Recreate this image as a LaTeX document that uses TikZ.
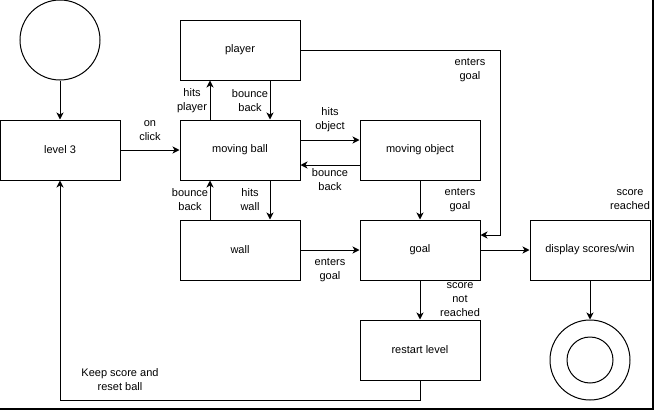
\documentclass[tikz,border=0pt]{standalone}
\usepackage{fontspec}
\setmainfont{Liberation Sans}
\usetikzlibrary{arrows.meta}

\begin{document}
\begin{tikzpicture}[x=1pt,y=-1pt,line width=1pt,
  state/.style={draw, rectangle, minimum width=120, minimum height=60, inner sep=0, font=\fontsize{11pt}{13pt}\selectfont},
  pseudo/.style={draw, circle, minimum size=80, inner sep=0},
  lbl/.style={inner sep=0, align=center, font=\fontsize{11pt}{14pt}\selectfont},
  arr/.style={-{Stealth[length=7pt,width=7pt,inset=2pt]}}]
\useasboundingbox (0,0) rectangle (654,410);
% frame
\draw [line width=2pt] (0,409) -- (653,409) -- (653,0);
% states
\node [pseudo] (start) at (60,40) {};
\node [state] (level) at (60,150) {level 3};
\node [state] (player) at (240,50) {player};
\node [state] (ball) at (240,150) {moving ball};
\node [state] (object) at (420,150) {moving object};
\node [state] (wall) at (240,250) {wall};
\node [state] (goal) at (420,250) {goal};
\node [state] (display) at (590,250) {display scores/win};
\node [state] (restart) at (420,350) {restart level};
\node [pseudo] (finish) at (590,360) {};
\node [draw, circle, minimum size=46, inner sep=0] (finishin) at (590,360) {};
\coordinate (goalin) at (500,235);
\coordinate (loopback) at (420,400);
% transitions
\draw [arr] (start) -- (level);
\draw [arr] (level) -- (ball);
\draw [arr] ([xshift=-30pt]ball.north) -- ([xshift=-30pt]player.south);
\draw [arr] ([xshift=30pt]player.south) -- ([xshift=30pt]ball.north);
\draw [arr] ([yshift=10pt]ball.east) -- ([yshift=10pt]object.west);
\draw [arr] ([yshift=-15pt]object.west) -- ([yshift=-15pt]ball.east);
\draw [arr] ([xshift=-30pt]wall.north) -- ([xshift=-30pt]ball.south);
\draw [arr] ([xshift=30pt]ball.south) -- ([xshift=30pt]wall.north);
\draw [arr] (wall) -- (goal);
\draw [arr] (object) -- (goal);
\draw [arr] (player.east) -| (goalin) -- ([yshift=15pt]goal.east);
\draw [arr] (goal) -- (display);
\draw [arr] (goal) -- (restart);
\draw [arr] (display) -- (finish);
\draw [arr] (restart.south) -- (loopback) -| (level.south);
% labels
\node [lbl] (lonclick) at (150,131) {on\\click};
\node [lbl] (lhitsplayer) at (192,101) {hits\\player};
\node [lbl] (lbounceup) at (250,101) {bounce\\back};
\node [lbl] (lhitsobject) at (330,120) {hits\\object};
\node [lbl] (lbounceobj) at (330,180) {bounce\\back};
\node [lbl] (lbouncewall) at (190,200) {bounce\\back};
\node [lbl] (lhitswall) at (250,200) {hits\\wall};
\node [lbl] (lgoalwall) at (330,270) {enters\\goal};
\node [lbl] (lgoalobj) at (460,200) {enters\\goal};
\node [lbl] (lgoalplayer) at (470,70) {enters\\goal};
\node [lbl] (lreached) at (630,200) {score\\reached};
\node [lbl] (lnotreached) at (460,300) {score\\not\\reached};
\node [lbl] (lkeep) at (120,380) {Keep score and\\reset ball};
\end{tikzpicture}
\end{document}
